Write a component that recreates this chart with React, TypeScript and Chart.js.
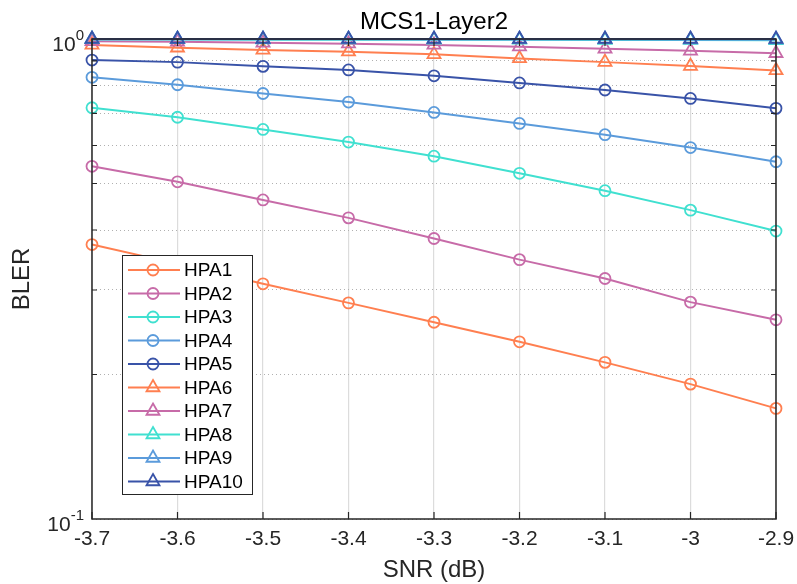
import React, { useEffect, useRef } from 'react';
import { Chart, registerables } from 'chart.js';

Chart.register(...registerables);

const FONT = "'Liberation Sans', Arial, Helvetica, sans-serif";

const snr = [-3.7, -3.6, -3.5, -3.4, -3.3, -3.2, -3.1, -3.0, -2.9];
const xTickLabels = ['-3.7', '-3.6', '-3.5', '-3.4', '-3.3', '-3.2', '-3.1', '-3', '-2.9'];
const yTicks = [0.1, 0.2, 0.3, 0.4, 0.5, 0.6, 0.7, 0.8, 0.9, 1];
const yMinorTicks = [0.2, 0.3, 0.4, 0.5, 0.6, 0.7, 0.8, 0.9];

const hpa1 = [0.373, 0.340, 0.309, 0.282, 0.257, 0.234, 0.212, 0.191, 0.170];
const hpa2 = [0.543, 0.504, 0.462, 0.424, 0.384, 0.347, 0.317, 0.283, 0.260];
const hpa3 = [0.719, 0.687, 0.648, 0.610, 0.570, 0.525, 0.483, 0.440, 0.398];
const hpa4 = [0.832, 0.803, 0.770, 0.739, 0.703, 0.667, 0.632, 0.594, 0.555];
const hpa5 = [0.904, 0.895, 0.877, 0.862, 0.838, 0.810, 0.783, 0.752, 0.717];
const hpa6 = [0.972, 0.959, 0.949, 0.941, 0.929, 0.911, 0.895, 0.878, 0.860];
const hpa7 = [0.989, 0.987, 0.982, 0.978, 0.972, 0.964, 0.954, 0.945, 0.934];
const hpa8 = [0.998, 0.998, 0.997, 0.997, 0.996, 0.996, 0.995, 0.995, 0.994];
const hpa9 = [0.999, 0.999, 0.999, 0.999, 0.998, 0.998, 0.998, 0.997, 0.997];
const hpa10 = [1, 1, 1, 1, 1, 1, 1, 1, 1];

const seriesNames = ['HPA1', 'HPA2', 'HPA3', 'HPA4', 'HPA5', 'HPA6', 'HPA7', 'HPA8', 'HPA9', 'HPA10'];
const seriesValues = [hpa1, hpa2, hpa3, hpa4, hpa5, hpa6, hpa7, hpa8, hpa9, hpa10];
const seriesColors = ['#FF7F50', '#C76BA8', '#40E0D0', '#5B9BDB', '#3953A8', '#FF7F50', '#C76BA8', '#40E0D0', '#5B9BDB', '#3953A8'];
const seriesMarkers = ['circle', 'circle', 'circle', 'circle', 'circle', 'triangle', 'triangle', 'triangle', 'triangle', 'triangle'];

const titleText = 'MCS1-Layer2';
const xTitle = 'SNR (dB)';
const yTitle = 'BLER';

function drawMarker(ctx: CanvasRenderingContext2D, style: string, x: number, y: number, r: number) {
  ctx.beginPath();
  if (style === 'circle') {
    ctx.arc(x, y, r, 0, Math.PI * 2);
  } else {
    const a = (2 * Math.PI) / 3;
    ctx.moveTo(x, y - r);
    ctx.lineTo(x + Math.sin(a) * r, y - Math.cos(a) * r);
    ctx.lineTo(x + Math.sin(2 * a) * r, y - Math.cos(2 * a) * r);
    ctx.closePath();
  }
  ctx.stroke();
}

const decorPlugin = {
  id: 'matlabDecor',
  afterDraw(chart: any) {
    const ctx: CanvasRenderingContext2D = chart.ctx;
    const area = chart.chartArea;
    const xs = chart.scales.x;
    const ys = chart.scales.y;
    ctx.save();

    // axes box
    ctx.strokeStyle = '#262626';
    ctx.lineWidth = 1.5;
    ctx.strokeRect(area.left, area.top, area.right - area.left, area.bottom - area.top);

    // x ticks (inward, bottom and top)
    ctx.lineWidth = 1.2;
    ctx.beginPath();
    snr.forEach((v) => {
      const px = xs.getPixelForValue(v);
      ctx.moveTo(px, area.bottom);
      ctx.lineTo(px, area.bottom - 7);
      ctx.moveTo(px, area.top);
      ctx.lineTo(px, area.top + 7);
    });
    // y minor ticks (inward, left and right)
    yMinorTicks.forEach((v) => {
      const py = ys.getPixelForValue(v);
      ctx.moveTo(area.left, py);
      ctx.lineTo(area.left + 5, py);
      ctx.moveTo(area.right, py);
      ctx.lineTo(area.right - 5, py);
    });
    ctx.stroke();

    // y tick labels with superscripts
    ctx.fillStyle = '#262626';
    const yLabels: [number, string][] = [[1, '0'], [0.1, '-1']];
    yLabels.forEach(([v, exp]) => {
      const py = ys.getPixelForValue(v);
      const right = area.left - 8;
      ctx.font = `15px ${FONT}`;
      ctx.textAlign = 'right';
      ctx.textBaseline = 'alphabetic';
      const ew = ctx.measureText(exp).width;
      ctx.fillText(exp, right, py + 1);
      ctx.font = `21px ${FONT}`;
      ctx.fillText('10', right - ew, py + 11.5);
    });

    // title
    ctx.fillStyle = '#000000';
    ctx.font = `24px ${FONT}`;
    ctx.textAlign = 'center';
    ctx.textBaseline = 'alphabetic';
    ctx.fillText(titleText, (area.left + area.right) / 2, 28.5);

    // x title
    ctx.fillStyle = '#262626';
    ctx.textBaseline = 'middle';
    ctx.fillText(xTitle, (area.left + area.right) / 2, 570);

    // y title
    ctx.save();
    ctx.translate(22.5, (area.top + area.bottom) / 2);
    ctx.rotate(-Math.PI / 2);
    ctx.fillText(yTitle, 0, 0);
    ctx.restore();

    // legend
    const lx = 122.5, ly = 255.5, lw = 130, lh = 239;
    ctx.fillStyle = '#ffffff';
    ctx.fillRect(lx, ly, lw, lh);
    ctx.strokeStyle = '#262626';
    ctx.lineWidth = 1;
    ctx.strokeRect(lx, ly, lw, lh);
    chart.data.datasets.forEach((ds: any, i: number) => {
      const cy = 270 + i * 23.5;
      ctx.strokeStyle = ds.borderColor;
      ctx.lineWidth = 2;
      ctx.beginPath();
      ctx.moveTo(128, cy);
      ctx.lineTo(180, cy);
      ctx.stroke();
      ctx.lineWidth = 1.8;
      drawMarker(ctx, ds.pointStyle, 153, cy, ds.pointStyle === 'circle' ? 5.5 : 7.5);
      ctx.fillStyle = '#000000';
      ctx.font = `19px ${FONT}`;
      ctx.textAlign = 'left';
      ctx.textBaseline = 'middle';
      ctx.fillText(ds.label, 184, cy + 1);
    });

    ctx.restore();
  },
};

export default function App() {
  const canvasRef = useRef<HTMLCanvasElement | null>(null);

  useEffect(() => {
    document.body.style.margin = '0';
    const canvas = canvasRef.current;
    if (!canvas) return;
    const datasets = seriesNames.map((name, i) => ({
      label: name,
      data: snr.map((x, j) => ({ x, y: seriesValues[i][j] })),
      borderColor: seriesColors[i],
      backgroundColor: 'rgba(0,0,0,0)',
      pointBackgroundColor: 'rgba(0,0,0,0)',
      pointBorderColor: seriesColors[i],
      pointStyle: seriesMarkers[i],
      pointRadius: seriesMarkers[i] === 'circle' ? 5.5 : 7.5,
      pointBorderWidth: 1.8,
      borderWidth: 2,
      tension: 0,
      fill: false,
      clip: false as any,
      order: 10 - i,
    }));

    const chart = new Chart(canvas, {
      type: 'line',
      data: { datasets },
      plugins: [decorPlugin],
      options: {
        animation: false,
        responsive: false,
        maintainAspectRatio: false,
        layout: { padding: { left: 0, right: 21, top: 39, bottom: 0 } },
        plugins: {
          legend: { display: false },
          title: { display: false },
          tooltip: { enabled: false },
        },
        scales: {
          x: {
            type: 'linear',
            min: -3.7,
            max: -2.9,
            afterBuildTicks: (s: any) => {
              s.ticks = snr.map((v) => ({ value: v }));
            },
            afterFit: (s: any) => {
              s.height = 65;
              s.paddingLeft = 0;
              s.paddingRight = 0;
            },
            ticks: {
              callback: (_v: any, i: number) => xTickLabels[i],
              font: { family: FONT, size: 21 },
              color: '#262626',
              padding: 8,
              maxRotation: 0,
              autoSkip: false,
            },
            grid: { color: '#dcdcdc', lineWidth: 1.2, drawTicks: false },
            border: { display: false },
          },
          y: {
            type: 'logarithmic',
            min: 0.1,
            max: 1,
            afterBuildTicks: (s: any) => {
              s.ticks = yTicks.map((v) => ({ value: v }));
            },
            afterFit: (s: any) => {
              s.width = 92;
              s.paddingTop = 0;
              s.paddingBottom = 0;
            },
            ticks: { display: false },
            grid: { color: '#b0b0b0', lineWidth: 1, drawTicks: false },
            border: { display: false, dash: [1, 3] },
          },
        },
      } as any,
    });
    return () => chart.destroy();
  }, []);

  return (
    <div style={{ width: 797, height: 584 }}>
      <canvas ref={canvasRef} width={797} height={584} />
    </div>
  );
}
